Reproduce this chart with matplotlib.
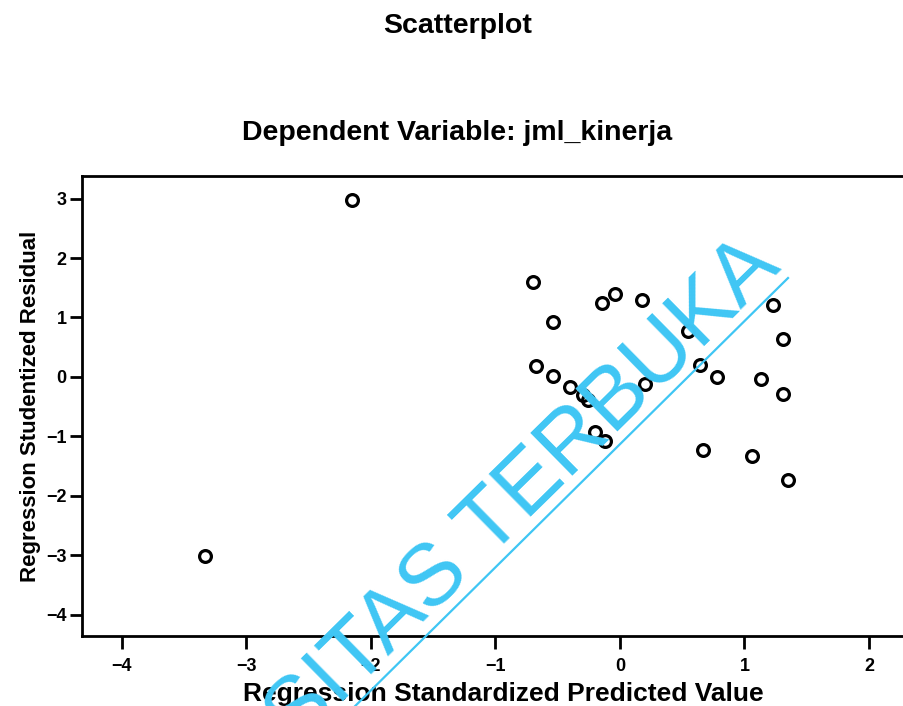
# -- coding: utf-8 --
"""
Scatterplot residual regresi (gaya SPSS) - Dependent Variable: jml_kinerja
"""

import matplotlib
matplotlib.use("Agg")
import matplotlib.pyplot as plt
from matplotlib.lines import Line2D

# 1. Data yang dibaca dari gambar
pred_std = [-2.15, -3.33, -0.70, -0.14, -0.04, 0.18, 1.23, -0.54, 0.55, 1.31,
            -0.67, -0.54, -0.40, -0.30, -0.26, 0.20, 0.64, 0.78, 1.13, 1.31,
            -0.20, -0.12, 0.67, 1.06, 1.35]
resid_stud = [2.97, -3.01, 1.60, 1.25, 1.40, 1.30, 1.21, 0.93, 0.77, 0.64,
              0.19, 0.02, -0.17, -0.30, -0.39, -0.12, 0.20, 0.00, -0.04, -0.29,
              -0.92, -1.08, -1.23, -1.33, -1.73]

x_ticks = [-4, -3, -2, -1, 0, 1, 2]
y_ticks = [3, 2, 1, 0, -1, -2, -3, -4]

judul = "Scatterplot"
sub_judul = "Dependent Variable: jml_kinerja"
label_x = "Regression Standardized Predicted Value"
label_y = "Regression Studentized Residual"
watermark = "UNIVERSITAS TERBUKA"

plt.rcParams['font.family'] = ['Liberation Sans', 'DejaVu Sans']

# 2. Figure dan axes (sisi kanan terpotong seperti pada hasil scan)
fig = plt.figure(figsize=(9.04, 7.06), dpi=100)
ax = fig.add_axes([0.0907, 0.0992, 0.9325, 0.6515])

ax.plot(pred_std, resid_stud, 'o', mfc='none', mec='black', ms=8.5, mew=2.3)

ax.set_xlim(-4.32, 2.45)
ax.set_ylim(-4.36, 3.38)
ax.set_xticks(x_ticks)
ax.set_yticks(y_ticks)
ax.tick_params(direction='out', length=9, width=2, labelsize=13)
ax.tick_params(axis='x', pad=7)
ax.tick_params(axis='y', pad=2)
for lbl in ax.get_xticklabels() + ax.get_yticklabels():
    lbl.set_fontweight('bold')
for sp in ax.spines.values():
    sp.set_linewidth(2)

ax.set_xlabel(label_x, fontsize=19, fontweight='bold', labelpad=5)
ax.set_ylabel(label_y, fontsize=16, fontweight='bold', labelpad=4)

fig.text(0.506, 0.963, judul, ha='center', va='center', fontsize=20.5, fontweight='bold')
fig.text(0.506, 0.812, sub_judul, ha='center', va='center', fontsize=20.5, fontweight='bold')

# 3. Watermark biru
biru = '#3FC6F4'
fig.text(0.866, 0.619, watermark, color=biru, fontsize=63, rotation=44.5,
         rotation_mode='anchor', ha='right', va='baseline', zorder=10)
fig.add_artist(Line2D([0.385, 0.8717], [-0.01, 0.6062], color=biru, lw=1.6,
                      transform=fig.transFigure, zorder=10))

plt.savefig("out.png", dpi=100)
